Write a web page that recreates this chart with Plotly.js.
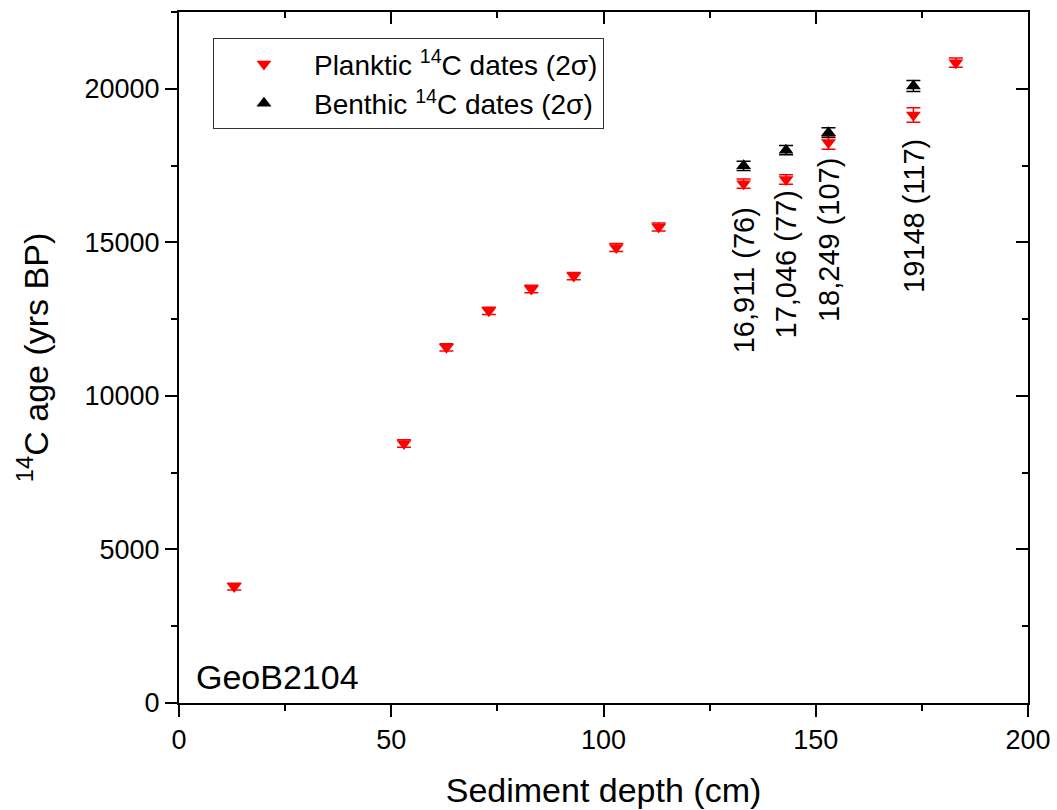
<!DOCTYPE html>
<html>
<head>
<meta charset="utf-8">
<script src="https://cdn.plot.ly/plotly-3.0.1.min.js"></script>
<style>html,body{margin:0;padding:0;background:#fff;}#chart{width:1057px;height:810px;}</style>
</head>
<body>
<div id="chart"></div>
<script>
// Data
const plankticDepth = [13, 53, 63, 73, 83, 93, 103, 113, 133, 143, 153, 173, 183];
const plankticAge   = [3790, 8450, 11580, 12770, 13480, 13900, 14830, 15500, 16911, 17046, 18249, 19148, 20850];
const plankticErr   = [110, 120, 120, 120, 120, 120, 130, 130, 152, 154, 214, 234, 150];
const benthicDepth  = [133, 143, 153, 173];
const benthicAge    = [17490, 18000, 18570, 20090];
const benthicErr    = [150, 150, 160, 180];
const labelText     = ["16,911 (76)", "17,046 (77)", "18,249 (107)", "19148 (117)"];
const labelDepth    = [133, 143, 153, 173];
const labelAgeMid   = [13750, 14280, 15090, 15870];

const FONT = "Arial, 'Liberation Sans', sans-serif";

const traces = [
  {
    x: plankticDepth, y: plankticAge, type: 'scatter', mode: 'markers',
    name: 'Planktic <sup>14</sup>C dates (2σ)',
    marker: {symbol: 'triangle-down', size: 13, color: '#ff0000'},
    error_y: {type: 'data', array: plankticErr, visible: true, color: '#ff0000', thickness: 1.5, width: 7}
  },
  {
    x: benthicDepth, y: benthicAge, type: 'scatter', mode: 'markers',
    name: 'Benthic <sup>14</sup>C dates (2σ)',
    marker: {symbol: 'triangle-up', size: 13, color: '#000000'},
    error_y: {type: 'data', array: benthicErr, visible: true, color: '#000000', thickness: 1.5, width: 7}
  },
  {
    x: [], y: [], xaxis: 'x2', yaxis: 'y2', type: 'scatter', mode: 'markers', showlegend: false, hoverinfo: 'skip'
  }
];

const annotations = labelText.map((t, i) => ({
  x: labelDepth[i], y: labelAgeMid[i], xref: 'x', yref: 'y', text: t,
  textangle: -90, showarrow: false, xanchor: 'center', yanchor: 'middle',
  font: {family: FONT, size: 29, color: '#000'}
}));
annotations.push({
  x: 0.018, y: 0.037, xref: 'paper', yref: 'paper', text: 'GeoB2104',
  showarrow: false, xanchor: 'left', yanchor: 'middle',
  font: {family: FONT, size: 34, color: '#000'}
});

const axisCommon = {
  showgrid: false, zeroline: false, showline: true, linecolor: '#000', linewidth: 2,
  tickcolor: '#000', tickwidth: 2, ticklen: 12, tickformat: 'd',
  tickfont: {family: FONT, size: 27, color: '#000'}
};

const layout = {
  width: 1057, height: 810,
  margin: {l: 179, r: 29, t: 12, b: 107},
  paper_bgcolor: '#fff', plot_bgcolor: '#fff',
  font: {family: FONT, color: '#000'},
  showlegend: true,
  legend: {
    x: 0.04, y: 0.962, xanchor: 'left', yanchor: 'top',
    bgcolor: '#fff', bordercolor: '#333', borderwidth: 1,
    font: {family: FONT, size: 28, color: '#000'},
    itemwidth: 90, tracegroupgap: 0
  },
  xaxis: Object.assign({}, axisCommon, {
    range: [0, 200], dtick: 50, ticks: 'outside',
    minor: {dtick: 25, ticks: 'outside', ticklen: 6, tickwidth: 2, tickcolor: '#000'},
    title: {text: 'Sediment depth (cm)', font: {family: FONT, size: 34, color: '#000'}, standoff: 24}
  }),
  yaxis: Object.assign({}, axisCommon, {
    range: [0, 22500], dtick: 5000, ticks: 'outside',
    minor: {dtick: 2500, ticks: 'outside', ticklen: 6, tickwidth: 2, tickcolor: '#000'},
    title: {text: '<sup>14</sup>C age (yrs BP)', font: {family: FONT, size: 34, color: '#000'}, standoff: 26}
  }),
  xaxis2: Object.assign({}, axisCommon, {
    overlaying: 'x', side: 'top', anchor: 'y2', range: [0, 200], dtick: 50, ticks: 'inside',
    showticklabels: false,
    minor: {dtick: 25, ticks: 'inside', ticklen: 6, tickwidth: 2, tickcolor: '#000'}
  }),
  yaxis2: Object.assign({}, axisCommon, {
    overlaying: 'y', side: 'right', anchor: 'x2', range: [0, 22500], dtick: 5000, ticks: 'inside',
    showticklabels: false,
    minor: {dtick: 2500, ticks: 'inside', ticklen: 6, tickwidth: 2, tickcolor: '#000'}
  }),
  annotations: annotations
};

Plotly.newPlot('chart', traces, layout, {displayModeBar: false, staticPlot: true});
</script>
</body>
</html>
